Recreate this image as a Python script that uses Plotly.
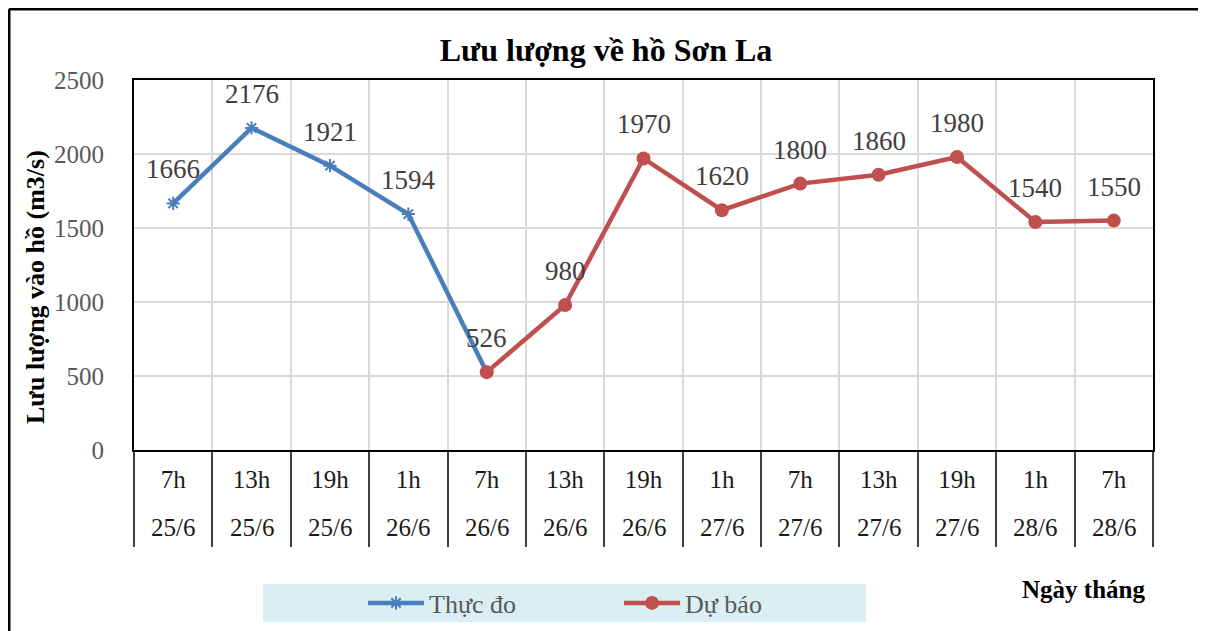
import plotly.graph_objects as go

# category axis: hour row + date row
hours = ["7h", "13h", "19h", "1h", "7h", "13h", "19h", "1h", "7h", "13h", "19h", "1h", "7h"]
dates = ["25/6", "25/6", "25/6", "26/6", "26/6", "26/6", "26/6",
         "27/6", "27/6", "27/6", "27/6", "28/6", "28/6"]

# series values (m3/s)
thuc_do = [1666, 2176, 1921, 1594, 526]                          # first 5 slots
du_bao = [526, 980, 1970, 1620, 1800, 1860, 1980, 1540, 1550]    # slots 4..12

keys = [f"{h} {d}" for h, d in zip(hours, dates)]
x_thuc_do = keys[:len(thuc_do)]
x_du_bao = keys[len(thuc_do) - 1:]

FONT = "Liberation Serif, Times New Roman, serif"
BLUE = "#4A7EBB"
RED = "#C0504D"

# page body adds an 8px offset, so the figure is drawn 8px smaller
OFF = 8
W, H = 1206 - OFF, 631 - OFF
# plot-area box in screen pixels
L, R, T, B = 134, 1153, 80, 450


def px(x):
    return (x - L) / (R - L)


def py(y):
    return (B - y) / (B - T)


fig = go.Figure()

fig.add_trace(go.Scatter(
    x=x_thuc_do, y=thuc_do, mode="lines+markers", name="Thực đo",
    line=dict(color=BLUE, width=4.5),
    marker=dict(symbol="asterisk-open", size=11, color=BLUE, line=dict(color=BLUE, width=2)),
))
fig.add_trace(go.Scatter(
    x=x_du_bao, y=du_bao, mode="lines+markers", name="Dự báo",
    line=dict(color=RED, width=4.5),
    marker=dict(symbol="circle", size=14, color=RED),
))

# data labels above points
labels = list(zip(x_thuc_do[:-1], thuc_do[:-1])) + list(zip(x_du_bao, du_bao))
for xk, v in labels:
    fig.add_annotation(x=xk, y=v, text=str(v), showarrow=False, yshift=34,
                       font=dict(family=FONT, size=27, color="#404040"))

# second row of category labels (dates)
for xk, d in zip(keys, dates):
    fig.add_annotation(x=xk, y=py(527), yref="paper", text=d, showarrow=False,
                       xanchor="center", yanchor="middle",
                       font=dict(family=FONT, size=25, color="#1a1a1a"))

fig.add_annotation(x=px(35), y=py(287), xref="paper", yref="paper", xanchor="center", yanchor="middle",
                   text="<b>Lưu lượng vào hồ (m3/s)</b>", textangle=-90, showarrow=False,
                   font=dict(family=FONT, size=26, color="black"))
fig.add_annotation(x=px(1083), y=py(589), xref="paper", yref="paper", xanchor="center", yanchor="middle",
                   text="<b>Ngày tháng</b>", showarrow=False,
                   font=dict(family=FONT, size=25, color="black"))

# paragraph text cut off by the top of the page
fig.add_annotation(x=px(832), y=py(9), xref="paper", yref="paper", xanchor="right", yanchor="bottom",
                   text="Lưu lượng về hồ Sơn La: lưu lượng đạt 1550m3/s, mực nước đạt 198.8m.",
                   showarrow=False, font=dict(family=FONT, size=27, color="black"))

# legend background + page frame
fig.add_shape(type="rect", xref="paper", yref="paper", x0=px(263), x1=px(866), y0=py(622), y1=py(584),
              fillcolor="#DAEEF3", line=dict(width=0), layer="below")
fig.add_shape(type="line", xref="paper", yref="paper", x0=px(9), x1=px(9), y0=py(9), y1=py(650),
              line=dict(color="black", width=3))
fig.add_shape(type="line", xref="paper", yref="paper", x0=px(9), x1=px(1203), y0=py(9), y1=py(9),
              line=dict(color="black", width=3))
fig.add_shape(type="line", xref="paper", yref="paper", x0=px(1203), x1=px(1203), y0=py(9), y1=py(650),
              line=dict(color="#7f7f7f", width=2))

fig.update_layout(
    width=W, height=H,
    margin=dict(l=L - OFF, r=W - (R - OFF), t=T - OFF, b=H - (B - OFF), autoexpand=False),
    paper_bgcolor="white", plot_bgcolor="white",
    title=dict(text="<b>Lưu lượng về hồ Sơn La</b>", x=px(606), xref="paper", xanchor="center",
               y=1 - (50 - OFF) / H, yref="container", yanchor="middle",
               font=dict(family=FONT, size=32, color="black")),
    showlegend=True,
    legend=dict(orientation="h", x=px(363), y=py(603), xanchor="left", yanchor="middle",
                bgcolor="rgba(0,0,0,0)", itemwidth=56, entrywidth=185,
                font=dict(family=FONT, size=26, color="#595959")),
    xaxis=dict(
        type="category", categoryorder="array", categoryarray=keys,
        range=[-0.5, len(keys) - 0.5],
        tickmode="array", tickvals=keys, ticktext=hours,
        tickson="boundaries", ticks="outside", ticklen=95, tickwidth=1.5, tickcolor="#404040",
        ticklabelstandoff=6,
        showgrid=True, gridcolor="#D9D9D9", gridwidth=1.5,
        showline=True, mirror=True, linecolor="black", linewidth=2,
        tickfont=dict(family=FONT, size=25, color="#1a1a1a"),
    ),
    yaxis=dict(
        range=[0, 2500], dtick=500, tick0=0,
        showgrid=True, gridcolor="#D9D9D9", gridwidth=1.5,
        showline=True, mirror=True, linecolor="black", linewidth=2,
        ticks="", ticklabelstandoff=23, zeroline=False,
        tickfont=dict(family=FONT, size=25, color="#595959"),
    ),
)

fig.write_html("out.html")
